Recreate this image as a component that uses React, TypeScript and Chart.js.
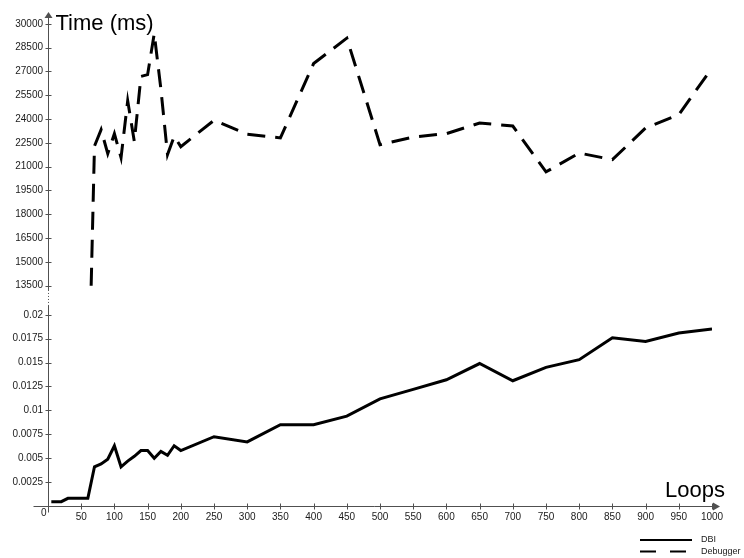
import React, { useEffect, useRef } from 'react';
import { Chart, registerables } from 'chart.js';

Chart.register(...registerables);

// ---------- data ----------
const dbiLoops = [5, 20, 30, 60, 70, 80, 90, 100, 110, 120, 130, 140, 150, 160, 170, 180, 190, 200, 250, 300, 350, 400, 450, 500, 550, 600, 650, 700, 750, 800, 850, 900, 950, 1000];
const dbiTimes = [0.00045, 0.00045, 0.0008, 0.0008, 0.0041, 0.0044, 0.0049, 0.0063, 0.0041, 0.0047, 0.0052, 0.0058, 0.0058, 0.005, 0.0057, 0.0053, 0.0063, 0.0058, 0.00725, 0.0067, 0.0085, 0.0085, 0.0094, 0.0112, 0.0122, 0.0132, 0.0149, 0.0131, 0.0145, 0.0153, 0.0176, 0.0172, 0.0181, 0.0185];

const debuggerLoops = [65, 70, 80, 90, 100, 110, 120, 130, 140, 150, 160, 170, 180, 190, 200, 250, 300, 350, 400, 450, 500, 550, 600, 650, 700, 750, 800, 850, 900, 950, 1000];
const debuggerTimes = [13500, 22300, 23330, 21820, 23080, 21570, 25150, 22590, 26690, 26800, 29380, 25900, 21760, 22910, 22260, 23920, 23050, 22810, 27500, 29100, 22390, 22870, 23080, 23750, 23560, 20670, 21860, 21440, 23440, 24280, 27220];

const xTicks = [0, 50, 100, 150, 200, 250, 300, 350, 400, 450, 500, 550, 600, 650, 700, 750, 800, 850, 900, 950, 1000];
const lowerTicks = [0.0025, 0.005, 0.0075, 0.01, 0.0125, 0.015, 0.0175, 0.02];
const lowerTickLabels = ['0.0025', '0.005', '0.0075', '0.01', '0.0125', '0.015', '0.0175', '0.02'];
const upperTicks = [13500, 15000, 16500, 18000, 19500, 21000, 22500, 24000, 25500, 27000, 28500, 30000];

const seriesNames = ['DBI', 'Debugger'];
const yTitle = 'Time (ms)';
const xTitle = 'Loops';

// ---------- style ----------
const FONT = "'Liberation Sans', Arial, sans-serif";
const AXIS = '#505050';
const TEXT = '#1a1a1a';

const overlay = {
  id: 'overlay',
  beforeDatasetsDraw(chart: any) {
    const ctx = chart.ctx;
    const xs = chart.scales.x;
    const yl = chart.scales.y;
    const yu = chart.scales.y2;
    const ax = Math.round(xs.getPixelForValue(0)) + 0.5;
    const ay = Math.round(yl.getPixelForValue(0)) + 0.5;
    const top = chart.chartArea.top + 4;
    const breakTop = yu.bottom - 10;
    const breakBot = yl.top + 6;
    ctx.save();
    ctx.strokeStyle = AXIS;
    ctx.fillStyle = AXIS;
    ctx.lineWidth = 1;
    // y axis
    ctx.beginPath();
    ctx.moveTo(ax, top + 4);
    ctx.lineTo(ax, breakTop);
    ctx.moveTo(ax, breakBot);
    ctx.lineTo(ax, ay + 6);
    ctx.stroke();
    // break dots
    ctx.setLineDash([1, 2]);
    ctx.beginPath();
    ctx.moveTo(ax, breakTop);
    ctx.lineTo(ax, breakBot);
    ctx.stroke();
    ctx.setLineDash([]);
    // y arrow
    ctx.beginPath();
    ctx.moveTo(ax, top);
    ctx.lineTo(ax - 4, top + 6);
    ctx.lineTo(ax + 4, top + 6);
    ctx.closePath();
    ctx.fill();
    // x axis
    const xEnd = xs.right + 8;
    ctx.beginPath();
    ctx.moveTo(ax - 15, ay);
    ctx.lineTo(xEnd - 4, ay);
    ctx.stroke();
    ctx.beginPath();
    ctx.moveTo(xEnd, ay);
    ctx.lineTo(xEnd - 7, ay - 4);
    ctx.lineTo(xEnd - 7, ay + 4);
    ctx.closePath();
    ctx.fill();
    // tick marks
    ctx.beginPath();
    for (const t of xs.ticks) {
      if (t.value === 0) continue;
      const px = Math.round(xs.getPixelForValue(t.value)) + 0.5;
      ctx.moveTo(px, ay - 3);
      ctx.lineTo(px, ay + 3);
    }
    for (const s of [yl, yu]) {
      for (const t of s.ticks) {
        const py = Math.round(s.getPixelForValue(t.value)) + 0.5;
        ctx.moveTo(ax - 3, py);
        ctx.lineTo(ax + 3, py);
      }
    }
    ctx.stroke();
    // origin label
    ctx.fillStyle = TEXT;
    ctx.font = `10px ${FONT}`;
    ctx.textAlign = 'right';
    ctx.textBaseline = 'middle';
    ctx.fillText('0', ax - 2, ay + 7);
    // titles
    ctx.font = `22px ${FONT}`;
    ctx.textAlign = 'left';
    ctx.textBaseline = 'alphabetic';
    ctx.fillStyle = '#000';
    ctx.fillText(yTitle, ax + 7, top + 18);
    ctx.textAlign = 'right';
    ctx.fillText(xTitle, xEnd + 5, ay - 10);
    // legend
    const lx0 = 640, lx1 = 692;
    const ly = [540, 551.5];
    ctx.strokeStyle = '#000';
    ctx.lineWidth = 2;
    ctx.beginPath();
    ctx.moveTo(lx0, ly[0]);
    ctx.lineTo(lx1, ly[0]);
    ctx.stroke();
    ctx.setLineDash([16, 14]);
    ctx.beginPath();
    ctx.moveTo(lx0, ly[1]);
    ctx.lineTo(lx1, ly[1]);
    ctx.stroke();
    ctx.setLineDash([]);
    ctx.font = `9px ${FONT}`;
    ctx.textAlign = 'left';
    ctx.textBaseline = 'middle';
    ctx.fillStyle = TEXT;
    ctx.fillText(seriesNames[0], 701, ly[0]);
    ctx.fillText(seriesNames[1], 701, ly[1]);
    ctx.restore();
  },
};

export default function App() {
  const ref = useRef<HTMLCanvasElement | null>(null);
  useEffect(() => {
    if (!ref.current) return;
    const tickFont = { family: FONT, size: 10 };
    const noGrid = { display: false, drawTicks: false, tickLength: 0 };
    const chart = new Chart(ref.current, {
      type: 'line',
      data: {
        datasets: [
          {
            label: seriesNames[0],
            data: dbiLoops.map((x, i) => ({ x, y: dbiTimes[i] })),
            yAxisID: 'y',
            borderColor: '#000',
            borderWidth: 3,
            pointRadius: 0,
            tension: 0,
            fill: false,
          },
          {
            label: seriesNames[1],
            data: debuggerLoops.map((x, i) => ({ x, y: debuggerTimes[i] })),
            yAxisID: 'y2',
            borderColor: '#000',
            borderWidth: 3,
            borderDash: [18, 10],
            pointRadius: 0,
            tension: 0,
            fill: false,
          },
        ],
      },
      options: {
        animation: false,
        responsive: false,
        layout: { padding: { top: 8, right: 32, bottom: 0, left: 0 } },
        plugins: { legend: { display: false }, tooltip: { enabled: false } },
        scales: {
          x: {
            type: 'linear',
            min: 0,
            max: 1000,
            grid: noGrid,
            border: { display: false },
            afterBuildTicks: (s: any) => { s.ticks = xTicks.map((v) => ({ value: v })); },
            afterFit: (s: any) => { s.height = 52; s.paddingLeft = 0; s.paddingRight = 0; },
            ticks: {
              autoSkip: false,
              maxRotation: 0,
              padding: 5,
              color: TEXT,
              font: tickFont,
              callback: (v: any) => (v === 0 ? '' : String(v)),
            },
          },
          y: {
            type: 'linear',
            position: 'left',
            stack: 'left',
            stackWeight: 206.05,
            min: 0,
            max: 0.02155,
            grid: noGrid,
            border: { display: false },
            afterBuildTicks: (s: any) => { s.ticks = lowerTicks.map((v) => ({ value: v })); },
            afterFit: (s: any) => { s.width = 48; s.paddingTop = 0; s.paddingBottom = 0; },
            ticks: {
              autoSkip: false,
              padding: 5,
              color: TEXT,
              font: tickFont,
              callback: (_v: any, i: number) => lowerTickLabels[i],
            },
          },
          y2: {
            type: 'linear',
            position: 'left',
            stack: 'left',
            stackWeight: 291.95,
            min: 12600,
            max: 31000,
            grid: noGrid,
            border: { display: false },
            afterBuildTicks: (s: any) => { s.ticks = upperTicks.map((v) => ({ value: v })); },
            afterFit: (s: any) => { s.width = 48; s.paddingTop = 0; s.paddingBottom = 0; },
            ticks: {
              autoSkip: false,
              padding: 5,
              color: TEXT,
              font: tickFont,
              callback: (v: any) => String(v),
            },
          },
        },
      } as any,
      plugins: [overlay],
    });
    return () => chart.destroy();
  }, []);
  return (
    <div style={{ position: 'fixed', left: 0, top: 0, width: 744, height: 558, background: '#fff' }}>
      <canvas ref={ref} width={744} height={558} style={{ display: 'block' }} />
    </div>
  );
}
